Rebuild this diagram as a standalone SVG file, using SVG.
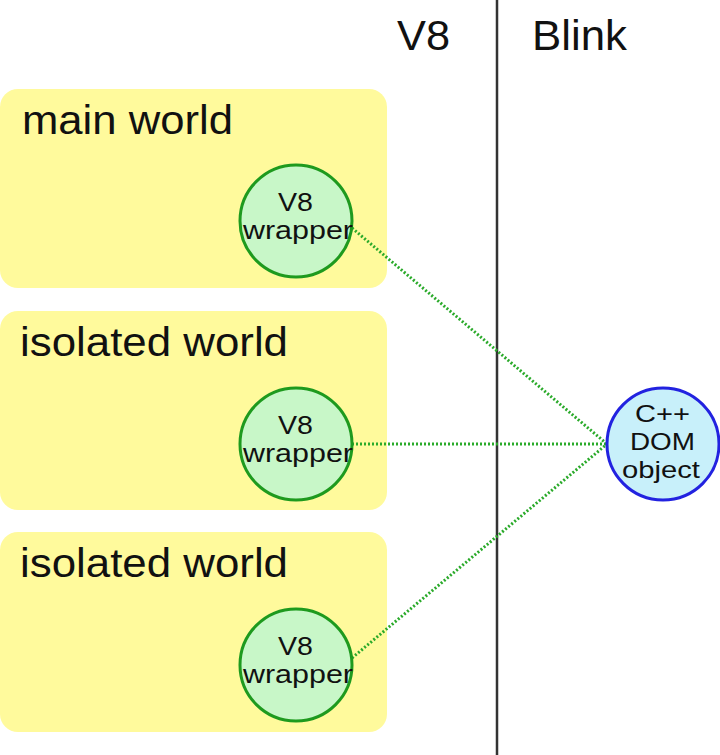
<svg xmlns="http://www.w3.org/2000/svg" width="720" height="755" viewBox="0 0 720 755">
<style>
.world{fill:#fffa9c;}
.wt{font-family:"Liberation Sans",Arial,sans-serif;font-size:40px;fill:#111;}
.hd{font-family:"Liberation Sans",Arial,sans-serif;font-size:42px;fill:#111;}
.wrap{fill:#c8f7c8;stroke:#1e9a1e;stroke-width:3;}
.dom{fill:#c8f0fa;stroke:#2222e0;stroke-width:3;}
.ct{font-family:"Liberation Sans",Arial,sans-serif;font-size:25px;fill:#111;}
.dt{font-family:"Liberation Sans",Arial,sans-serif;font-size:24px;fill:#111;}
.conn{stroke:#2aaa2a;stroke-width:3;stroke-dasharray:2 2;fill:none;}
</style>
<rect width="720" height="755" fill="#ffffff"/>
<line x1="497" y1="0" x2="497" y2="755" stroke="#333" stroke-width="2.5"/>
<text class="hd" x="397" y="50" textLength="53" lengthAdjust="spacingAndGlyphs">V8</text>
<text class="hd" x="532" y="50" textLength="95" lengthAdjust="spacingAndGlyphs">Blink</text>
<g id="world-main">
<rect class="world" x="0" y="89" width="387" height="199" rx="18"/>
<text class="wt" x="22" y="134" textLength="211" lengthAdjust="spacingAndGlyphs">main world</text>
</g>
<g id="world-iso1">
<rect class="world" x="0" y="311" width="387" height="199" rx="18"/>
<text class="wt" x="20" y="356" textLength="268" lengthAdjust="spacingAndGlyphs">isolated world</text>
</g>
<g id="world-iso2">
<rect class="world" x="0" y="532" width="387" height="200" rx="18"/>
<text class="wt" x="20" y="577" textLength="268" lengthAdjust="spacingAndGlyphs">isolated world</text>
</g>
<g id="connectors">
<line class="conn" x1="352" y1="228" x2="607" y2="444"/>
<line class="conn" x1="352" y1="444" x2="607" y2="444"/>
<line class="conn" x1="352" y1="658" x2="607" y2="444"/>
</g>
<g id="wrapper-main">
<circle class="wrap" cx="296" cy="221" r="56"/>
<text class="ct" x="278" y="211" textLength="35" lengthAdjust="spacingAndGlyphs">V8</text>
<text class="ct" x="243" y="239" textLength="110" lengthAdjust="spacingAndGlyphs">wrapper</text>
</g>
<g id="wrapper-iso1">
<circle class="wrap" cx="296" cy="444" r="56"/>
<text class="ct" x="278" y="434" textLength="35" lengthAdjust="spacingAndGlyphs">V8</text>
<text class="ct" x="243" y="462" textLength="110" lengthAdjust="spacingAndGlyphs">wrapper</text>
</g>
<g id="wrapper-iso2">
<circle class="wrap" cx="296" cy="665" r="56"/>
<text class="ct" x="278" y="655" textLength="35" lengthAdjust="spacingAndGlyphs">V8</text>
<text class="ct" x="243" y="683" textLength="110" lengthAdjust="spacingAndGlyphs">wrapper</text>
</g>
<g id="dom-object">
<circle class="dom" cx="663" cy="444" r="56"/>
<text class="dt" x="635" y="422" textLength="55" lengthAdjust="spacingAndGlyphs">C++</text>
<text class="dt" x="630" y="450" textLength="65" lengthAdjust="spacingAndGlyphs">DOM</text>
<text class="dt" x="622" y="478" textLength="78" lengthAdjust="spacingAndGlyphs">object</text>
</g>
</svg>
